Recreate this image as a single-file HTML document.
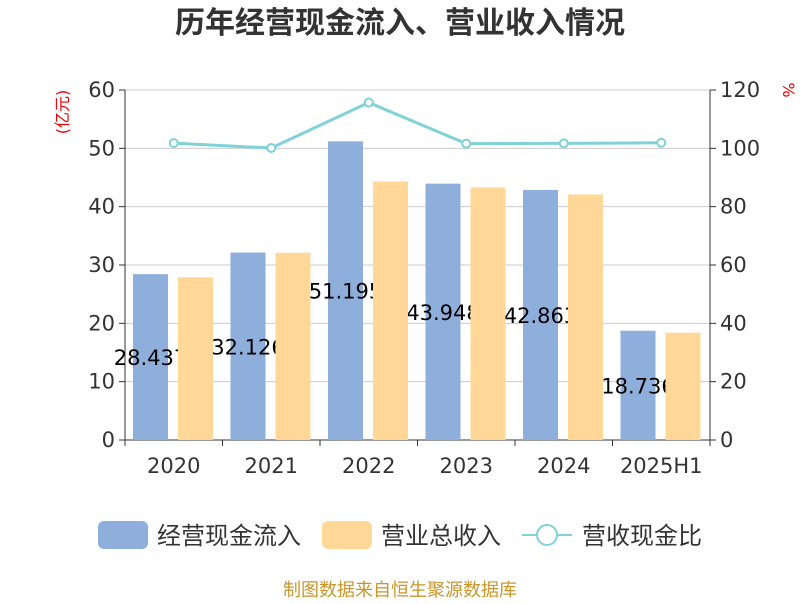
<!DOCTYPE html>
<html><head><meta charset="utf-8"><style>
body{margin:0;background:#fff;font-family:"DejaVu Sans","Noto Sans CJK SC",sans-serif}
</style></head><body>
<svg id="c" width="800" height="600" xmlns="http://www.w3.org/2000/svg" font-family="DejaVu Sans, Noto Sans CJK SC, sans-serif"></svg>
<script>
const categories=["2020","2021","2022","2023","2024","2025H1"];
const cashIn=[28.437,32.126,51.195,43.948,42.863,18.736];
const revenue=[27.9,32.1,44.3,43.3,42.1,18.4];
const ratio=[101.8,100.1,115.7,101.6,101.7,101.9];
const leftTicks=[0,10,20,30,40,50,60];
const rightTicks=[0,20,40,60,80,100,120];
const NS="http://www.w3.org/2000/svg";
const svg=document.getElementById('c');
const X0=125,X1=710,Y0=440,Y1=90;
const bw=(X1-X0)/categories.length;
const yL=v=>Y0-(v/60)*(Y0-Y1);
const yR=v=>Y0-(v/120)*(Y0-Y1);
function el(t,a,txt){const e=document.createElementNS(NS,t);for(const k in a)e.setAttribute(k,a[k]);if(txt!==undefined)e.textContent=txt;svg.appendChild(e);return e;}
let e;
e=el('text',{x:400,y:33,'text-anchor':'middle','font-size':30,'font-weight':'bold',fill:'#333','font-family':'Noto Sans CJK SC, sans-serif'},'历年经营现金流入、营业收入情况');

leftTicks.forEach(t=>{
 e=el('line',{x1:X0,x2:X1,y1:yL(t),y2:yL(t),stroke:'#ccc','stroke-width':1});
 
 e=el('line',{x1:X0-6,x2:X0,y1:yL(t),y2:yL(t),stroke:'#333'});
 
 e=el('text',{x:X0-10,y:yL(t)+7,'text-anchor':'end','font-size':21,fill:'#333'},t);
 
});
rightTicks.forEach(t=>{
 e=el('line',{x1:X1,x2:X1+6,y1:yR(t),y2:yR(t),stroke:'#333'});
 
 e=el('text',{x:X1+10,y:yR(t)+7,'font-size':21,fill:'#333'},t);
 
});
e=el('line',{x1:X0,x2:X0,y1:Y1,y2:Y0,stroke:'#333'});
e=el('line',{x1:X1,x2:X1,y1:Y1,y2:Y0,stroke:'#333'});
e=el('line',{x1:X0,x2:X1,y1:Y0,y2:Y0,stroke:'#333'});
e=el('text',{x:0,y:0,'font-size':16,fill:'#e00',transform:'translate(68,112) rotate(-90)','text-anchor':'middle'},'(亿元)');

e=el('text',{x:0,y:0,'font-size':16,fill:'#e00',transform:'translate(783,90) rotate(90)','text-anchor':'middle'},'%');

categories.forEach((c,i)=>{
 const x=X0+i*bw;
 e=el('line',{x1:x,x2:x,y1:Y0,y2:Y0+6,stroke:'#333'});
 e=el('text',{x:x+bw/2,y:Y0+33,'text-anchor':'middle','font-size':21,fill:'#333'},c);
 
});
e=el('line',{x1:X1,x2:X1,y1:Y0,y2:Y0+6,stroke:'#333'});
categories.forEach((c,i)=>{
 const x=X0+i*bw+8;
 e=el('rect',{x:x,y:yL(cashIn[i]),width:35,height:Y0-yL(cashIn[i]),fill:'#8eaedb'});
 
 e=el('text',{x:x+17.5,y:(yL(cashIn[i])+Y0)/2+8,'text-anchor':'middle','font-size':21,fill:'#000'},cashIn[i].toFixed(3));
 
});
categories.forEach((c,i)=>{
 const x=X0+i*bw+53;
 e=el('rect',{x:x,y:yL(revenue[i]),width:35,height:Y0-yL(revenue[i]),fill:'#ffd898'});
 
});
const pts=ratio.map((v,i)=>[X0+i*bw+bw/2,yR(v)]);
e=el('polyline',{points:pts.map(p=>p.join(',')).join(' '),fill:'none',stroke:'#7fd3d8','stroke-width':3});

pts.forEach((p,i)=>{
 e=el('circle',{cx:p[0],cy:p[1],r:4,fill:'#fff',stroke:'#7fd3d8','stroke-width':2});
 
});
e=el('rect',{x:98,y:521,width:50,height:28,rx:6,fill:'#8eaedb'});
e=el('text',{x:157,y:544,'font-size':24,fill:'#333'},'经营现金流入');
e=el('rect',{x:322,y:521,width:50,height:28,rx:6,fill:'#ffd898'});
e=el('text',{x:381,y:544,'font-size':24,fill:'#333'},'营业总收入');
e=el('line',{x1:522,x2:572,y1:535,y2:535,stroke:'#7fd3d8','stroke-width':2});
e=el('circle',{cx:547,cy:535,r:10,fill:'#fff',stroke:'#7fd3d8','stroke-width':2});
e=el('text',{x:582,y:544,'font-size':24,fill:'#333'},'营收现金比');
e=el('text',{x:400,y:596,'text-anchor':'middle','font-size':18,fill:'#c8962a'},'制图数据来自恒生聚源数据库');

</script>
</body></html>
